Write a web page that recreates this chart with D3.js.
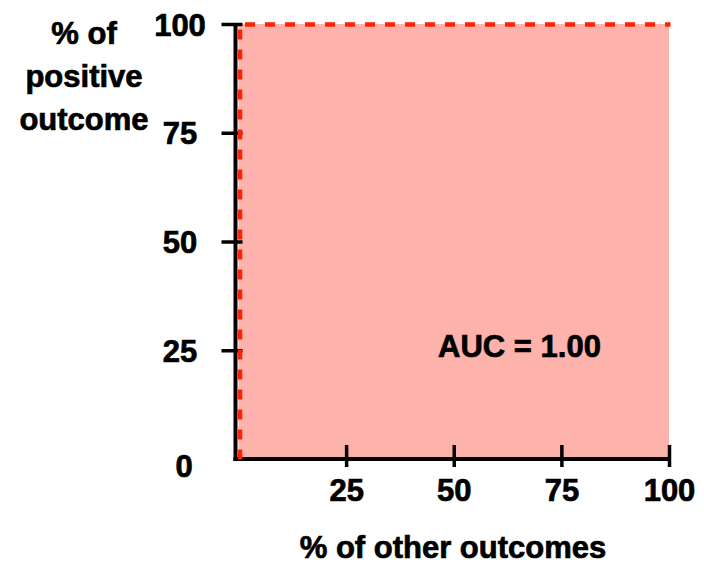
<!DOCTYPE html>
<html>
<head>
<meta charset="utf-8">
<script src="https://cdn.jsdelivr.net/npm/d3@7"></script>
<style>
  html, body { margin: 0; padding: 0; background: #ffffff; }
  svg text { font-family: "Liberation Sans", Arial, sans-serif; font-weight: bold; fill: #000;
             stroke: #000; stroke-width: 0.7px; paint-order: stroke; }
</style>
</head>
<body>
<svg id="chart" width="704" height="569"></svg>
<script>
// ---- data ----
const rocX = [0, 0, 100];          // % of other outcomes (false positive rate)
const rocY = [0, 100, 100];        // % of positive outcome (true positive rate)
const xTicks = [25, 50, 75, 100];
const yTicks = [25, 50, 75, 100];
const originLabel = "0";
const yTitleLines = ["% of", "positive", "outcome"];
const xTitle = "% of other outcomes";
const aucLabel = "AUC = 1.00";

// ---- layout ----
const svg = d3.select("#chart");
const x = d3.scaleLinear().domain([0, 100]).range([238.5, 669]);
const y = d3.scaleLinear().domain([0, 100]).range([459, 24]);
const axisX = 235.5;   // y-axis drawn just left of the curve
const fs = 31;

const pts = rocX.map((v, i) => ({ x: v, y: rocY[i] }));

// area under curve
const area = d3.area().x(d => x(d.x)).y0(y(0)).y1(d => y(d.y));
svg.append("path").datum(pts)
  .attr("d", area)
  .attr("fill", "#fdb2ab");

// bottom axis
const gx = svg.append("g").attr("transform", `translate(0,${y(0)})`)
  .call(d3.axisBottom(x).tickValues(xTicks).tickSize(0).tickSizeOuter(0).tickPadding(0));
gx.select(".domain").remove();
gx.append("line").attr("x1", axisX - 2).attr("x2", x(100)).attr("y1", 0).attr("y2", 0)
  .attr("stroke", "#000").attr("stroke-width", 4);
gx.selectAll(".tick line").attr("y1", -14).attr("y2", 8).attr("stroke", "#000").attr("stroke-width", 3.5);
gx.selectAll(".tick text").attr("y", 42).attr("dy", null)
  .style("font-size", fs + "px").style("font-family", null).attr("fill", "#000");

// left axis
const gy = svg.append("g").attr("transform", `translate(${axisX},0)`)
  .call(d3.axisLeft(y).tickValues(yTicks).tickSize(0).tickSizeOuter(0).tickPadding(0));
gy.select(".domain").remove();
gy.append("line").attr("x1", 0).attr("x2", 0).attr("y1", y(100)).attr("y2", y(0) + 2)
  .attr("stroke", "#000").attr("stroke-width", 4);
gy.selectAll(".tick line").attr("x1", -14).attr("x2", 7).attr("stroke", "#000").attr("stroke-width", 3.5);
gy.selectAll(".tick text").attr("x", 180 - axisX).attr("dy", "0.36em")
  .attr("text-anchor", "middle")
  .style("font-size", fs + "px").style("font-family", null).attr("fill", "#000");
gy.append("text").attr("x", 184 - axisX).attr("y", y(0) + 18)
  .attr("text-anchor", "middle").style("font-size", fs + "px").text(originLabel);

// ROC curve (dashed)
const line = d3.line().x(d => x(d.x) + 1.5).y(d => y(d.y) + 0.5);
svg.append("path").datum(pts)
  .attr("d", line)
  .attr("fill", "none")
  .attr("stroke", "#ff2200")
  .attr("stroke-width", 4.5)
  .attr("stroke-dasharray", "10,10");

// y title
svg.append("text").attr("x", 84).attr("y", 44)
  .attr("text-anchor", "middle").style("font-size", fs + "px")
  .selectAll("tspan").data(yTitleLines).join("tspan")
  .attr("x", 84).attr("dy", (d, i) => i === 0 ? 0 : 43).text(d => d);

// x title
svg.append("text").attr("x", 453).attr("y", 558)
  .attr("text-anchor", "middle").style("font-size", fs + "px").text(xTitle);

// AUC label
svg.append("text").attr("x", 519.5).attr("y", 357)
  .attr("text-anchor", "middle").style("font-size", fs + "px").text(aucLabel);
</script>
</body>
</html>
